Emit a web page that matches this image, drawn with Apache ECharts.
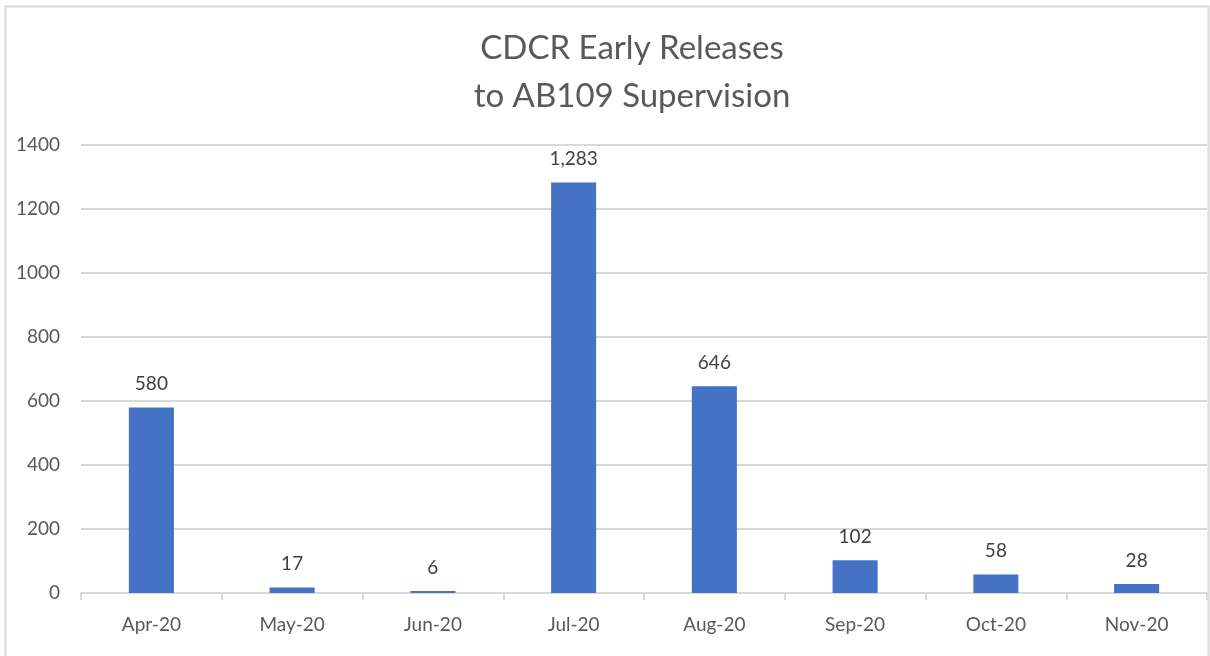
<!doctype html>
<html lang="en">
<head>
  <meta charset="UTF-8">
  <title>CDCR Early Releases</title>
  <script src="https://cdn.jsdelivr.net/npm/echarts@6/dist/echarts.min.js"></script>
  <style>
    html, body { margin: 0; padding: 0; background: #fff; }
    #chart { width: 1210px; height: 656px; }
  </style>
</head>
<body>
<div id="chart"></div>
<script>
  // data
  var months = ['Apr-20', 'May-20', 'Jun-20', 'Jul-20', 'Aug-20', 'Sep-20', 'Oct-20', 'Nov-20'];
  var releases = [580, 17, 6, 1283, 646, 102, 58, 28];
  var yTicks = [0, 200, 400, 600, 800, 1000, 1200, 1400];

  var font = 'Lato, "Open Sans", sans-serif';
  var chart = echarts.init(document.getElementById('chart'));

  var option = {
    backgroundColor: '#fff',
    animation: false,
    title: {
      text: 'CDCR Early Releases\nto AB109 Supervision',
      left: 627,
      textAlign: 'center',
      top: 19,
      textStyle: {
        fontFamily: font,
        fontWeight: 'normal',
        fontSize: 33,
        lineHeight: 48,
        color: '#595959'
      }
    },
    graphic: [{
      type: 'rect',
      shape: { x: 5.5, y: 6.5, width: 1203, height: 660 },
      style: { fill: 'none', stroke: '#d9d9d9', lineWidth: 2 },
      silent: true
    }],
    grid: { left: 81, right: 3, top: 145, bottom: 63 },
    xAxis: {
      type: 'category',
      data: months,
      axisLine: { lineStyle: { color: '#d9d9d9', width: 2 } },
      axisTick: { show: true, length: 7, lineStyle: { color: '#d9d9d9', width: 2 } },
      axisLabel: { color: '#595959', fontFamily: font, fontSize: 19, margin: 22 }
    },
    yAxis: {
      type: 'value',
      min: yTicks[0],
      max: yTicks[yTicks.length - 1],
      interval: 200,
      axisLine: { show: false },
      axisTick: { show: false },
      splitLine: { lineStyle: { color: '#d9d9d9', width: 2 } },
      axisLabel: {
        color: '#595959', fontFamily: font, fontSize: 19, margin: 21,
        formatter: function (v) { return String(v); }
      }
    },
    series: [{
      type: 'bar',
      data: releases,
      barWidth: '32%',
      itemStyle: { color: '#4472c4' },
      label: {
        show: true,
        position: 'top',
        distance: 14,
        color: '#404040',
        fontFamily: font,
        fontSize: 19,
        formatter: function (p) {
          return p.value.toLocaleString('en-US');
        }
      }
    }]
  };

  chart.setOption(option);
</script>
</body>
</html>
